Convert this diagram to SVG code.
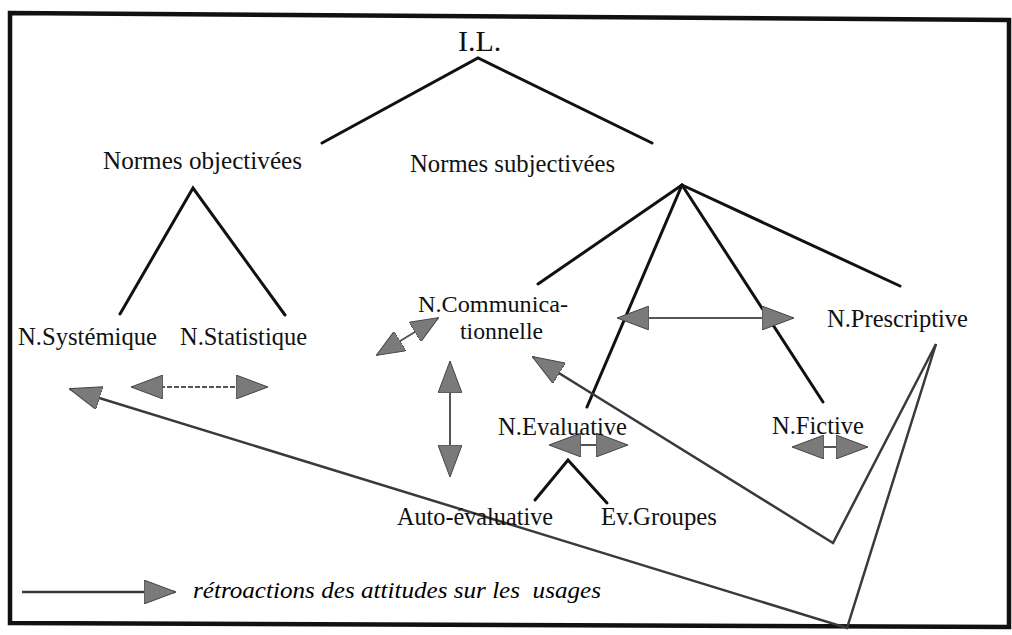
<svg xmlns="http://www.w3.org/2000/svg" width="1012" height="635" viewBox="0 0 1012 635">
<style>
 .lbl{font-family:"Liberation Serif","Times New Roman",serif;font-size:26px;fill:#111}
 .small{font-size:23.5px}
 .title{font-size:30px}
 .legend{font-family:"Liberation Serif","Times New Roman",serif;font-style:italic;font-size:24px;white-space:pre}
 .tree{stroke:#111;stroke-width:3;fill:none;stroke-linecap:round}
 .fb{stroke:#3a3a3a;stroke-width:2.5;fill:none;stroke-linejoin:miter}
 .dbl{stroke:#555;stroke-width:2;fill:none}
 .frame{fill:none;stroke:#111;stroke-width:4.5}
</style>
<defs>
 <marker id="head" markerUnits="userSpaceOnUse" viewBox="0 0 32 24" markerWidth="32" markerHeight="24" refX="31" refY="12" orient="auto-start-reverse">
  <path d="M0,0 L32,12 L0,24 Z" fill="#7a7a7a" stroke="#444" stroke-width="1"/>
 </marker>
 <marker id="headS" markerUnits="userSpaceOnUse" viewBox="0 0 32 24" markerWidth="28" markerHeight="23" refX="31" refY="12" orient="auto-start-reverse" preserveAspectRatio="none">
  <path d="M0,0 L32,12 L0,24 Z" fill="#7a7a7a" stroke="#444" stroke-width="1"/>
 </marker>
</defs>

<path class="frame" d="M10,13 L1009,20 L1009,627 L10,623 Z"/>

<g id="connectors">
 <g id="tree-lines">
  <polyline class="tree" points="322,143 478,58 652,143"/>
  <polyline class="tree" points="120,314 193,188 285,315"/>
  <line class="tree" x1="682" y1="185" x2="538" y2="284"/>
  <line class="tree" x1="682" y1="185" x2="587" y2="407"/>
  <line class="tree" x1="682" y1="185" x2="823" y2="402"/>
  <line class="tree" x1="682" y1="185" x2="900" y2="286"/>
  <polyline class="tree" points="535,500 568,460 607,503"/>
 </g>
 <g id="double-arrows">
  <line class="dbl" x1="132" y1="387" x2="267" y2="387" stroke-dasharray="5,2" marker-start="url(#head)" marker-end="url(#head)"/>
  <line class="dbl" x1="377" y1="355" x2="438" y2="318" marker-start="url(#headS)" marker-end="url(#headS)"/>
  <line class="dbl" x1="450" y1="362" x2="450" y2="476" marker-start="url(#head)" marker-end="url(#head)"/>
  <line class="dbl" x1="618" y1="318" x2="793" y2="318" marker-start="url(#head)" marker-end="url(#head)"/>
  <line class="dbl" x1="550" y1="445" x2="627" y2="445" marker-start="url(#head)" marker-end="url(#head)"/>
  <line class="dbl" x1="793" y1="447" x2="867" y2="447" marker-start="url(#head)" marker-end="url(#head)"/>
 </g>
 <g id="feedback">
  <polyline class="fb" points="936,344 847,628 70,389" marker-end="url(#head)"/>
  <polyline class="fb" points="936,344 833,543 533,357" marker-end="url(#head)"/>
 </g>
 <g id="legend-arrow">
  <line class="fb" x1="22" y1="592" x2="175" y2="592" marker-end="url(#head)"/>
 </g>
</g>

<g id="node-IL"><text class="lbl title" x="458" y="51">I.L.</text></g>
<g id="node-normes-objectivees"><text class="lbl" x="103" y="169" textLength="199" lengthAdjust="spacingAndGlyphs">Normes objectivées</text></g>
<g id="node-normes-subjectivees"><text class="lbl" x="410" y="172" textLength="205" lengthAdjust="spacingAndGlyphs">Normes subjectivées</text></g>
<g id="node-systemique"><text class="lbl" x="18" y="345" textLength="139" lengthAdjust="spacingAndGlyphs">N.Systémique</text></g>
<g id="node-statistique"><text class="lbl" x="180" y="345" textLength="127" lengthAdjust="spacingAndGlyphs">N.Statistique</text></g>
<g id="node-communicationnelle">
 <text class="lbl small" x="418" y="312" textLength="150" lengthAdjust="spacingAndGlyphs">N.Communica-</text>
 <text class="lbl small" x="460" y="339" textLength="83" lengthAdjust="spacingAndGlyphs">tionnelle</text>
</g>
<g id="node-prescriptive"><text class="lbl" x="827" y="327" textLength="141" lengthAdjust="spacingAndGlyphs">N.Prescriptive</text></g>
<g id="node-evaluative"><text class="lbl" x="498" y="435" textLength="129" lengthAdjust="spacingAndGlyphs">N.Evaluative</text></g>
<g id="node-fictive"><text class="lbl" x="772" y="434" textLength="92" lengthAdjust="spacingAndGlyphs">N.Fictive</text></g>
<g id="node-auto-evaluative"><text class="lbl" x="397" y="525" textLength="156" lengthAdjust="spacingAndGlyphs">Auto-évaluative</text></g>
<g id="node-ev-groupes"><text class="lbl" x="601" y="525" textLength="116" lengthAdjust="spacingAndGlyphs">Ev.Groupes</text></g>
<g id="legend"><text class="legend" x="193" y="598" textLength="408" lengthAdjust="spacingAndGlyphs">rétroactions des attitudes sur les  usages</text></g>
</svg>
